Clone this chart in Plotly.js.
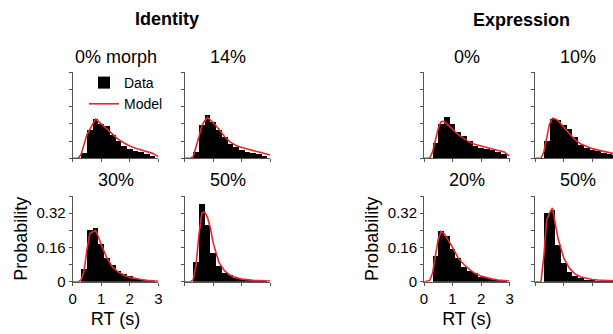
<!DOCTYPE html>
<html>
<head>
<meta charset="utf-8">
<script src="https://cdn.plot.ly/plotly-3.0.1.min.js"></script>
<style>
  html, body { margin: 0; padding: 0; background: #fff; overflow: hidden; }
  #chart { width: 640px; height: 334px; }
</style>
</head>
<body>
<div id="chart"></div>
<script>
// Reaction-time histograms (bars) with model fits (red lines)
const rtBins = [0.4, 0.6, 0.8, 1.0, 1.2, 1.4, 1.6, 1.8, 2.0, 2.2, 2.4, 2.6, 2.8];
const modelRT = [0, 0.2, 0.3, 0.4, 0.5, 0.6, 0.7, 0.8, 0.9, 1.0, 1.2, 1.4, 1.6, 1.8, 2.0, 2.2, 2.4, 2.6, 2.8, 3.0];

// Identity task
const idData0  = [0.025, 0.13, 0.185, 0.16, 0.148, 0.11, 0.08, 0.058, 0.045, 0.035, 0.028, 0.02, 0.012];
const idModel0 = [0, 0, 0.02, 0.06, 0.11, 0.135, 0.16, 0.182, 0.172, 0.16, 0.136, 0.108, 0.088, 0.071, 0.057, 0.047, 0.039, 0.031, 0.023, 0.008];
const idData14  = [0.03, 0.155, 0.2, 0.168, 0.132, 0.1, 0.065, 0.052, 0.04, 0.03, 0.025, 0.018, 0.012];
const idModel14 = [0, 0, 0.01, 0.05, 0.1, 0.15, 0.175, 0.19, 0.178, 0.165, 0.135, 0.1, 0.075, 0.06, 0.05, 0.042, 0.035, 0.029, 0.022, 0.015];
const idData30  = [0.057, 0.241, 0.249, 0.175, 0.11, 0.08, 0.048, 0.035, 0.025, 0.018, 0.012, 0.008, 0.005];
const idModel30 = [0, 0, 0.01, 0.05, 0.15, 0.225, 0.232, 0.24, 0.21, 0.172, 0.11, 0.068, 0.045, 0.03, 0.02, 0.014, 0.01, 0.006, 0.004, 0.002];
const idData50  = [0.09, 0.365, 0.265, 0.135, 0.075, 0.042, 0.03, 0.018, 0.012, 0.008, 0.006, 0.004, 0.003];
const idModel50 = [0, 0, 0.01, 0.08, 0.22, 0.32, 0.325, 0.3, 0.25, 0.18, 0.09, 0.05, 0.03, 0.019, 0.012, 0.008, 0.006, 0.005, 0.004, 0.003];

// Expression task
const exData0  = [0.072, 0.16, 0.19, 0.16, 0.122, 0.103, 0.08, 0.058, 0.05, 0.045, 0.04, 0.03, 0.022];
const exModel0 = [0, 0, 0.03, 0.08, 0.14, 0.17, 0.172, 0.16, 0.145, 0.135, 0.11, 0.09, 0.074, 0.064, 0.056, 0.05, 0.043, 0.036, 0.03, 0.01];
const exData10  = [0.082, 0.185, 0.176, 0.155, 0.137, 0.097, 0.064, 0.05, 0.04, 0.032, 0.025, 0.02, 0.015];
const exModel10 = [0, 0, 0.03, 0.1, 0.16, 0.187, 0.183, 0.175, 0.16, 0.145, 0.115, 0.085, 0.066, 0.054, 0.045, 0.038, 0.032, 0.026, 0.02, 0.015];
const exData20  = [0.12, 0.236, 0.214, 0.151, 0.112, 0.07, 0.052, 0.04, 0.024, 0.016, 0.012, 0.008, 0.006];
const exModel20 = [0, 0.005, 0.04, 0.12, 0.2, 0.235, 0.225, 0.205, 0.185, 0.16, 0.11, 0.08, 0.056, 0.038, 0.026, 0.018, 0.012, 0.008, 0.005, 0.003];
const exData50  = [0.322, 0.335, 0.173, 0.087, 0.046, 0.026, 0.015, 0.01, 0.007, 0.005, 0.004, 0.003, 0.002];
const exModel50 = [0, 0, 0.12, 0.29, 0.32, 0.345, 0.27, 0.2, 0.155, 0.11, 0.062, 0.035, 0.022, 0.015, 0.01, 0.008, 0.006, 0.005, 0.004, 0.003];

const panelTitles = ['0% morph', '14%', '30%', '50%', '0%', '10%', '20%', '50%'];
const groupTitles = ['Identity', 'Expression'];
const probTicks = [0, 0.08, 0.16, 0.24, 0.32, 0.40];
const probTickText = ['0', '', '0.16', '', '0.32', ''];
const rtTicks = [0, 1, 2, 3];

const panelData = [idData0, idData14, idData30, idData50, exData0, exData10, exData20, exData50];
const panelModel = [idModel0, idModel14, idModel30, idModel50, exModel0, exModel10, exModel20, exModel50];

// ---- layout geometry (pixels) ----
const W = 640, H = 334;
const colPx = [[72.7, 158.3], [184.7, 270.3], [424, 509.6], [535.3, 620.9]];
const rowPx = [[72.3, 158.3], [196, 281.7]];
const px = v => v / W;
const py = v => 1 - v / H;

const FONT = 'Liberation Sans, Arial, Helvetica, sans-serif';
const BAR_COLOR = '#000000';
const LINE_COLOR = '#e8262a';
const AXIS_COLOR = '#555555';

// panel i -> grid position
const panelPos = [[0, 0], [1, 0], [0, 1], [1, 1], [2, 0], [3, 0], [2, 1], [3, 1]];
const labelled = [2, 6];

const traces = [];
const layout = {
  width: W, height: H,
  margin: {l: 0, r: 0, t: 0, b: 0},
  paper_bgcolor: '#fff', plot_bgcolor: '#fff',
  font: {family: FONT, color: '#000', size: 15},
  bargap: 0,
  showlegend: true,
  legend: {
    x: px(84), y: py(67), xanchor: 'left', yanchor: 'top',
    bgcolor: 'rgba(0,0,0,0)', borderwidth: 0,
    font: {size: 14, family: FONT},
    tracegroupgap: 0
  },
  annotations: [],
  hovermode: false
};

panelPos.forEach(([c, r], i) => {
  const n = i + 1;
  const xa = 'x' + (n === 1 ? '' : n), ya = 'y' + (n === 1 ? '' : n);
  const xKey = 'xaxis' + (n === 1 ? '' : n), yKey = 'yaxis' + (n === 1 ? '' : n);
  const lab = labelled.includes(i);

  traces.push({
    type: 'bar', x: rtBins, y: panelData[i], xaxis: xa, yaxis: ya,
    marker: {color: BAR_COLOR, line: {width: 0}},
    name: 'Data', showlegend: i === 0
  });
  traces.push({
    type: 'scatter', mode: 'lines', x: modelRT, y: panelModel[i], xaxis: xa, yaxis: ya,
    line: {color: LINE_COLOR, width: 1.6},
    cliponaxis: false,
    name: 'Model', showlegend: i === 0
  });

  layout[xKey] = {
    domain: [px(colPx[c][0]), px(colPx[c][1])],
    anchor: ya, range: [0, 3], fixedrange: true,
    showgrid: false, zeroline: false,
    showline: true, linecolor: AXIS_COLOR, linewidth: 1,
    ticks: 'outside', ticklen: 3, tickcolor: AXIS_COLOR, tickwidth: 1,
    tickmode: 'array', tickvals: rtTicks,
    showticklabels: lab, tickfont: {size: 15},
    title: lab ? {text: 'RT (s)', font: {size: 18}, standoff: 6} : {text: ''}
  };
  layout[yKey] = {
    domain: [py(rowPx[r][1]), py(rowPx[r][0])],
    anchor: xa, range: [0, 0.4], fixedrange: true,
    showgrid: false, zeroline: false,
    showline: true, linecolor: AXIS_COLOR, linewidth: 1,
    ticks: 'outside', ticklen: 3, tickcolor: AXIS_COLOR, tickwidth: 1,
    tickmode: 'array', tickvals: probTicks, ticktext: probTickText,
    showticklabels: lab, tickfont: {size: 15},
    title: lab ? {text: 'Probability', font: {size: 18}, standoff: 4} : {text: ''}
  };

  layout.annotations.push({
    text: panelTitles[i], showarrow: false,
    xref: 'paper', yref: 'paper',
    x: px((colPx[c][0] + colPx[c][1]) / 2), y: py(r === 0 ? 57 : 180),
    xanchor: 'center', yanchor: 'middle',
    font: {size: 18, family: FONT}
  });
});

layout.annotations.push({
  text: '<b>' + groupTitles[0] + '</b>', showarrow: false,
  xref: 'paper', yref: 'paper', x: px(166.7), y: py(19),
  xanchor: 'center', yanchor: 'middle', font: {size: 18, family: FONT}
});
layout.annotations.push({
  text: '<b>' + groupTitles[1] + '</b>', showarrow: false,
  xref: 'paper', yref: 'paper', x: px(521.7), y: py(20),
  xanchor: 'center', yanchor: 'middle', font: {size: 18, family: FONT}
});

Plotly.newPlot('chart', traces, layout, {staticPlot: true, displayModeBar: false});
</script>
</body>
</html>
